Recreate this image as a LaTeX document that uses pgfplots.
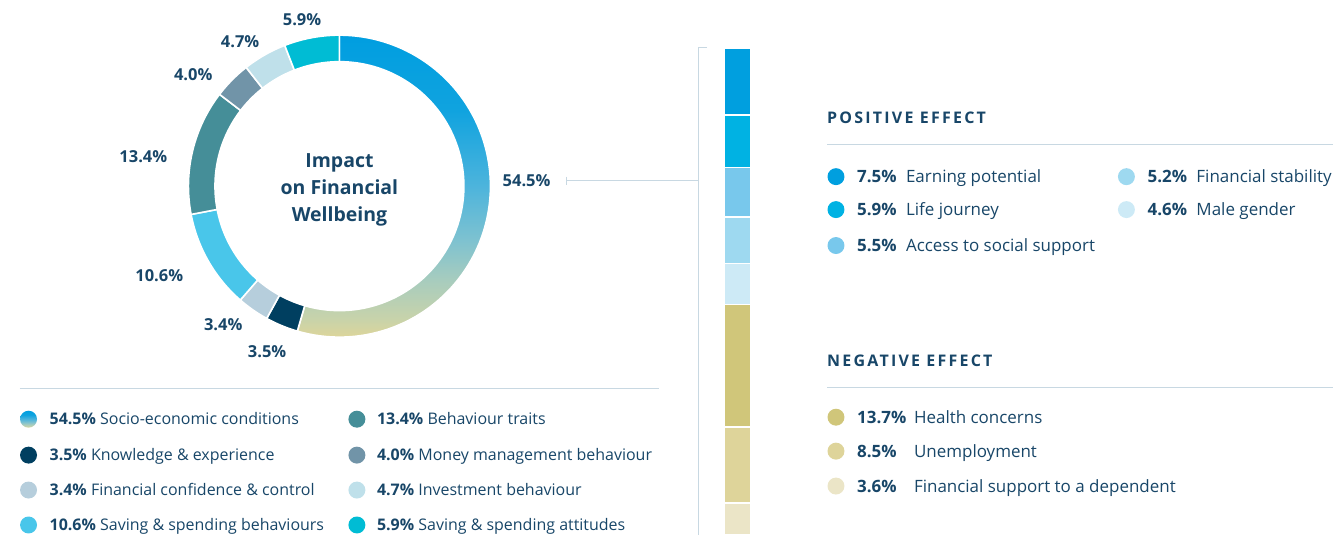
\documentclass[border=0pt]{standalone}
\usepackage{fontspec}
\setmainfont{Open Sans}
\usepackage{pgfplots}
\usepackage{pgfplotstable}
\pgfplotsset{compat=1.18}

\definecolor{navy}{RGB}{24,70,104}
\definecolor{rulec}{RGB}{200,216,226}
% donut colours
\definecolor{dc1}{RGB}{0,63,96}
\definecolor{dc2}{RGB}{182,206,220}
\definecolor{dc3}{RGB}{73,198,234}
\definecolor{dc4}{RGB}{69,142,152}
\definecolor{dc5}{RGB}{113,148,168}
\definecolor{dc6}{RGB}{191,224,234}
\definecolor{dc7}{RGB}{0,188,212}
% gradient stops, top to bottom
\definecolor{gA}{RGB}{0,158,224}
\definecolor{gB}{RGB}{16,163,223}
\definecolor{gC}{RGB}{77,180,220}
\definecolor{gD}{RGB}{126,194,208}
\definecolor{gE}{RGB}{167,204,190}
\definecolor{gF}{RGB}{200,211,170}
\definecolor{gG}{RGB}{221,213,154}
\pgfdeclareverticalshading{donutgrad}{100bp}{color(0bp)=(gG); color(25bp)=(gG);
  color(28bp)=(gF); color(34.5bp)=(gE); color(41bp)=(gD); color(50bp)=(gC);
  color(62.5bp)=(gB); color(75bp)=(gA); color(100bp)=(gA)}
% bar colours
\definecolor{b1}{RGB}{0,159,223}
\definecolor{b2}{RGB}{0,178,227}
\definecolor{b3}{RGB}{120,200,236}
\definecolor{b4}{RGB}{158,217,240}
\definecolor{b5}{RGB}{205,234,246}
\definecolor{n1}{RGB}{208,198,122}
\definecolor{n2}{RGB}{222,212,154}
\definecolor{n3}{RGB}{235,229,199}

\pgfplotsset{
  seg0/.style={shade, shading=donutgrad},
  seg1/.style={fill=dc1}, seg2/.style={fill=dc2}, seg3/.style={fill=dc3},
  seg4/.style={fill=dc4}, seg5/.style={fill=dc5}, seg6/.style={fill=dc6},
  seg7/.style={fill=dc7},
}

\newcommand{\lbl}{\fontsize{16}{19}\selectfont}
\newcommand{\rlbl}{\fontsize{17}{20}\selectfont}
\newcommand{\head}{\fontsize{16}{19}\selectfont\bfseries\addfontfeature{LetterSpace=14}}
\tikzset{dot/.style={circle, inner sep=0pt, minimum size=17pt}}

% donut shares, clockwise from 12 o'clock
\pgfplotstableread{
share
54.5
3.5
3.4
10.6
13.4
4.0
4.7
5.9
}\donutdata

\begin{document}
\def\cum{0}
\pgfplotsforeachungrouped \i in {0,...,7}{%
  \pgfplotstablegetelem{\i}{share}\of\donutdata
  \pgfmathsetmacro\sa{\cum*3.6}%
  \pgfmathsetmacro\cum{\cum+\pgfplotsretval}%
  \pgfmathsetmacro\sb{\cum*3.6}%
  \expandafter\xdef\csname sa\i\endcsname{\sa}%
  \expandafter\xdef\csname sb\i\endcsname{\sb}%
}%
\begin{tikzpicture}
\useasboundingbox (0,0) rectangle (1337pt,536pt);
% canvas in pixel units, y downwards
\begin{axis}[
  at={(0,0)}, anchor=south west,
  width=1337pt, height=536pt, scale only axis,
  xmin=0, xmax=1337, ymin=0, ymax=536, y dir=reverse,
  hide axis, clip=false,
]
\pgfplotsinvokeforeach{0,...,7}{
  \addplot[seg#1, draw=white, line width=1.6pt, samples=90, variable=\t,
    domain=\csname sa#1\endcsname:\csname sb#1\endcsname]
    ({337.5+151.3*sin(\t)}, {186.5-151.3*cos(\t)}) -- (337.5,186.5) -- cycle;
}
\addplot[fill=white, draw=none, samples=181, variable=\t, domain=0:360]
  ({337.5+125.5*sin(\t)}, {186.5-125.5*cos(\t)}) -- cycle;

% centre title
\node[text=navy, align=center, font=\fontsize{19.5}{27}\selectfont\bfseries]
  at (337.5,190) {Impact\\on Financial\\Wellbeing};

% donut labels
\begin{scope}[every node/.style={text=navy, font=\fontsize{16.5}{19}\selectfont\bfseries}]
\node at (525,181) {54.5\%};
\node at (265,352) {3.5\%};
\node at (221,325) {3.4\%};
\node at (157,276) {10.6\%};
\node at (141,157) {13.4\%};
\node at (191,75) {4.0\%};
\node at (238,42) {4.7\%};
\node at (300,20) {5.9\%};
\end{scope}

% connectors
\draw[rulec, line width=1pt] (565,181) -- (697,181);
\draw[rulec, line width=1pt] (565,177) -- (565,185);
\draw[rulec, line width=1pt] (706,48) -- (697,48) -- (697,536);
\draw[rulec, line width=1pt] (17,389) -- (658,389);

% bottom-left legend
\begin{scope}[every node/.append style={text=navy, font=\lbl, inner sep=0pt}]
\node[dot, shade, shading=donutgrad] at (26,420) {};
\node[anchor=base west] at (47,425.5) {\textbf{54.5\%} Socio-economic conditions};
\node[dot, fill=dc1] at (26,456) {};
\node[anchor=base west] at (47,461.5) {\textbf{3.5\%} Knowledge \& experience};
\node[dot, fill=dc2] at (26,491) {};
\node[anchor=base west] at (47,496.5) {\textbf{3.4\%} Financial confidence \& control};
\node[dot, fill=dc3] at (26,526) {};
\node[anchor=base west] at (47,531.5) {\textbf{10.6\%} Saving \& spending behaviours};
\node[dot, fill=dc4] at (355,420) {};
\node[anchor=base west] at (375,425.5) {\textbf{13.4\%} Behaviour traits};
\node[dot, fill=dc5] at (355,456) {};
\node[anchor=base west] at (375,461.5) {\textbf{4.0\%} Money management behaviour};
\node[dot, fill=dc6] at (355,491) {};
\node[anchor=base west] at (375,496.5) {\textbf{4.7\%} Investment behaviour};
\node[dot, fill=dc7] at (355,526) {};
\node[anchor=base west] at (375,531.5) {\textbf{5.9\%} Saving \& spending attitudes};
\end{scope}

% right legends
\begin{scope}[every node/.append style={text=navy, font=\rlbl, inner sep=0pt}]
\node[anchor=base west, font=\head] at (826,124) {POSITIVE EFFECT};
\draw[rulec, line width=1pt] (826,145) -- (1333,145);
\node[dot, fill=b1] at (835,177) {};
\node[anchor=base west] at (856,183) {\textbf{7.5\%}};
\node[anchor=base west] at (905,183) {Earning potential};
\node[dot, fill=b2] at (835,210) {};
\node[anchor=base west] at (856,216) {\textbf{5.9\%}};
\node[anchor=base west] at (905,216) {Life journey};
\node[dot, fill=b3] at (835,246) {};
\node[anchor=base west] at (856,252) {\textbf{5.5\%}};
\node[anchor=base west] at (905,252) {Access to social support};
\node[dot, fill=b4] at (1126,177) {};
\node[anchor=base west] at (1147,183) {\textbf{5.2\%}};
\node[anchor=base west] at (1196,183) {Financial stability};
\node[dot, fill=b5] at (1126,210) {};
\node[anchor=base west] at (1147,216) {\textbf{4.6\%}};
\node[anchor=base west] at (1196,216) {Male gender};

\node[anchor=base west, font=\head] at (826,367) {NEGATIVE EFFECT};
\draw[rulec, line width=1pt] (826,388) -- (1333,388);
\node[dot, fill=n1] at (835,418) {};
\node[anchor=base west] at (856,424) {\textbf{13.7\%}};
\node[anchor=base west] at (913,424) {Health concerns};
\node[dot, fill=n2] at (835,452) {};
\node[anchor=base west] at (856,458) {\textbf{8.5\%}};
\node[anchor=base west] at (913,458) {Unemployment};
\node[dot, fill=n3] at (835,487) {};
\node[anchor=base west] at (856,493) {\textbf{3.6\%}};
\node[anchor=base west] at (913,493) {Financial support to a dependent};
\end{scope}
\end{axis}

% stacked effect bar
\begin{axis}[
  at={(724pt,0pt)}, anchor=south west,
  width=25pt, height=488pt, scale only axis,
  xmin=0, xmax=1, ymin=0, ymax=54.5, y dir=reverse,
  hide axis, clip=false,
  ybar stacked, bar width=26.5pt, bar shift=0pt,
]
\addplot[fill=b1, draw=white, line width=1.5pt] coordinates {(0.5,7.5)};
\addplot[fill=b2, draw=white, line width=1.5pt] coordinates {(0.5,5.9)};
\addplot[fill=b3, draw=white, line width=1.5pt] coordinates {(0.5,5.5)};
\addplot[fill=b4, draw=white, line width=1.5pt] coordinates {(0.5,5.2)};
\addplot[fill=b5, draw=white, line width=1.5pt] coordinates {(0.5,4.6)};
\addplot[fill=n1, draw=white, line width=1.5pt] coordinates {(0.5,13.7)};
\addplot[fill=n2, draw=white, line width=1.5pt] coordinates {(0.5,8.5)};
\addplot[fill=n3, draw=white, line width=1.5pt] coordinates {(0.5,3.6)};
\end{axis}
\end{tikzpicture}
\end{document}
